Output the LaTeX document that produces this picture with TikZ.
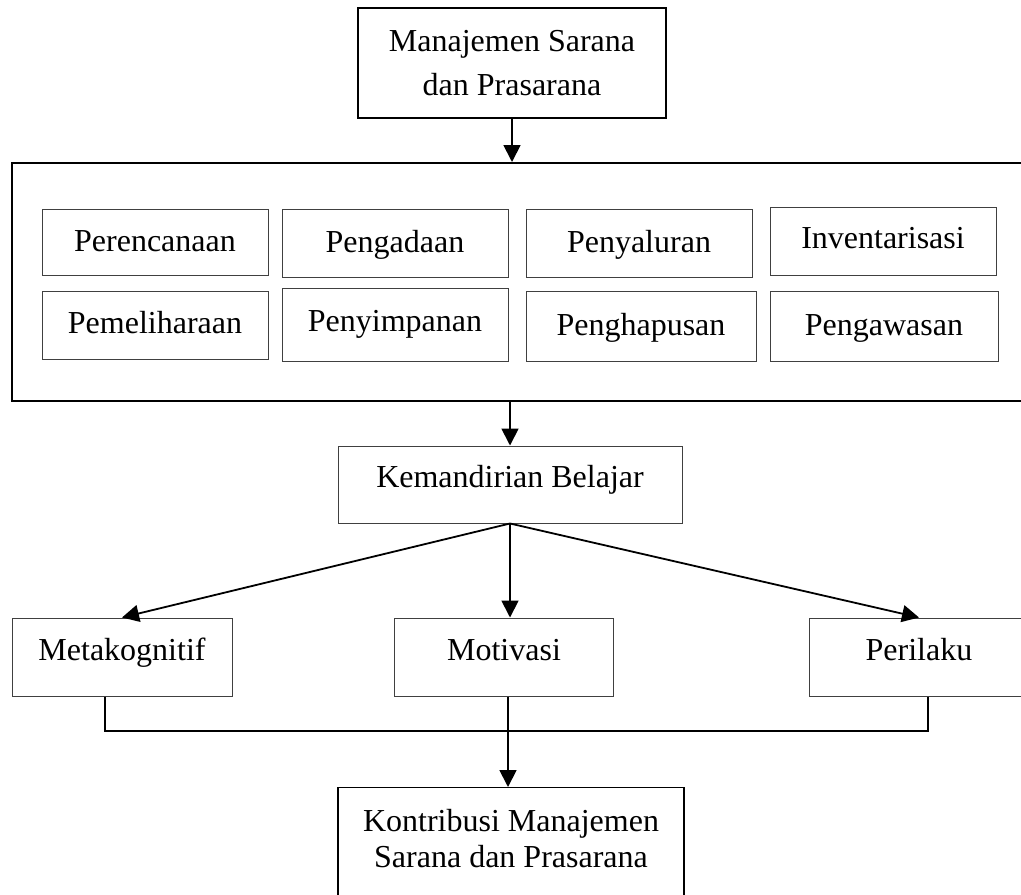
\documentclass[tikz,border=0pt]{standalone}
\usepackage{fontspec}
\setmainfont{Liberation Serif}
\usetikzlibrary{arrows.meta}

\begin{document}
\begin{tikzpicture}[x=0.5pt,y=-0.5pt,>={Triangle[length=8.5pt,width=8.5pt]},
  box/.style={draw=black!75,line width=0.5pt,inner sep=0pt,font=\fontsize{16}{18}\selectfont,text height=11pt,text depth=2pt},
  lowbox/.style={box,text depth=8pt},
  bigbox/.style={draw,line width=0.7pt,inner sep=0pt,align=center},
  frame/.style={draw,line width=1pt,inner sep=0pt},
  arr/.style={->,line width=0.9pt},
  line/.style={line width=0.9pt}]
\useasboundingbox (0,0) rectangle (1021,894);
\clip (0,0) rectangle (1021,894);
% top
\node[bigbox,minimum width=154pt,minimum height=55pt,font=\fontsize{16}{22}\selectfont] (sarpras) at (512,63) {Manajemen Sarana\\dan Prasarana};
% process frame
\node[frame,minimum width=520pt,minimum height=119pt] (proses) at (532,282) {};
\node[box,minimum width=113pt,minimum height=33pt] (perencanaan) at (155,242) {Perencanaan};
\node[box,minimum width=113pt,minimum height=34pt] (pengadaan) at (395,243) {Pengadaan};
\node[box,minimum width=113pt,minimum height=34pt] (penyaluran) at (639,243) {Penyaluran};
\node[box,minimum width=113pt,minimum height=34pt,text depth=4pt] (inventarisasi) at (883,241) {Inventarisasi};
\node[box,minimum width=113pt,minimum height=34pt,text depth=3pt] (pemeliharaan) at (155,325) {Pemeliharaan};
\node[box,minimum width=113pt,minimum height=36.5pt,text depth=4pt] (penyimpanan) at (395,324.5) {Penyimpanan};
\node[box,minimum width=115pt,minimum height=35pt] (penghapusan) at (641,326) {Penghapusan};
\node[box,minimum width=114pt,minimum height=35pt] (pengawasan) at (884,326) {Pengawasan};
% kemandirian belajar
\node[lowbox,minimum width=172pt,minimum height=38.5pt] (kemandirian) at (510,484.5) {Kemandirian Belajar};
\node[lowbox,minimum width=110pt,minimum height=39pt] (metakognitif) at (122,657) {Metakognitif};
\node[lowbox,minimum width=109.5pt,minimum height=39pt] (motivasi) at (504,657) {Motivasi};
\node[lowbox,minimum width=110pt,minimum height=39pt] (perilaku) at (919,657) {Perilaku};
% result
\node[bigbox,anchor=north,minimum width=173pt,inner ysep=11pt,text height=29pt,text depth=42pt,font=\fontsize{16}{18}\selectfont] (kontribusi) at (511,787) {Kontribusi Manajemen\\Sarana dan Prasarana};
\coordinate (gabung) at (508,731);
\draw[arr] (sarpras.south) -- (sarpras.south |- proses.north);
\draw[arr] (kemandirian.north |- proses.south) -- (kemandirian.north);
\draw[arr] (kemandirian.south) -- (metakognitif.north);
\draw[arr] (kemandirian.south) -- (kemandirian.south |- motivasi.north);
\draw[arr] (kemandirian.south) -- (perilaku.north);
\draw[line] ([xshift=-8.5pt]metakognitif.south) |- (gabung) -| ([xshift=4.5pt]perilaku.south);
\draw[arr] (gabung |- motivasi.south) -- (gabung |- kontribusi.north);
\end{tikzpicture}
\end{document}
